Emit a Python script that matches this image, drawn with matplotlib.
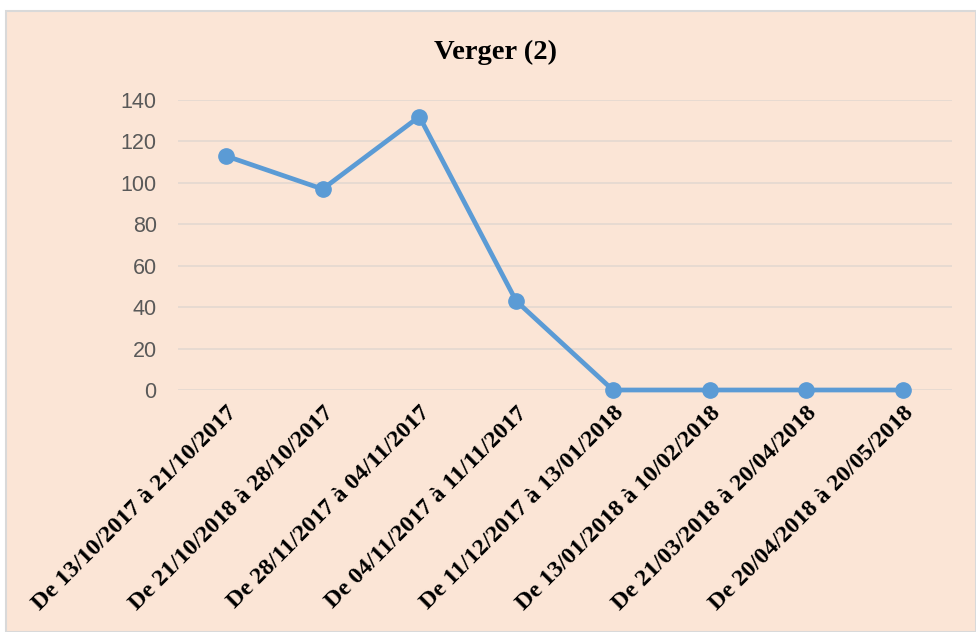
import matplotlib.pyplot as plt
from matplotlib.patches import Rectangle

periodes = ['De 13/10/2017 à 21/10/2017', 'De 21/10/2018 à 28/10/2017',
            'De 28/11/2017 à 04/11/2017', 'De 04/11/2017 à 11/11/2017',
            'De 11/12/2017 à 13/01/2018', 'De 13/01/2018 à 10/02/2018',
            'De 21/03/2018 à 20/04/2018', 'De 20/04/2018 à 20/05/2018']
valeurs = [113, 97, 132, 43, 0, 0, 0, 0]
yticks = [0, 20, 40, 60, 80, 100, 120, 140]

peche = '#FBE5D6'

fig = plt.figure(figsize=(9.76, 6.32), dpi=100, facecolor='white')
# cadre du graphique
fig.patches.append(Rectangle((6/976, 0), 1 - 6/976, 1 - 11/632, transform=fig.transFigure,
                             facecolor=peche, edgecolor='#D9D9D9', linewidth=1.5, zorder=-10))

ax = fig.add_axes([177.5/976, 1 - 390/632, 774/976, 290/632])
ax.set_facecolor(peche)
x = range(len(periodes))
ax.plot(x, valeurs, color='#5B9BD5', linewidth=3.4, marker='o', markersize=11, zorder=3,
        solid_capstyle='round', clip_on=False)

ax.set_xlim(-0.5, len(periodes) - 0.5)
ax.set_ylim(0, 140)
ax.set_yticks(yticks)
ax.set_yticklabels([str(v) for v in yticks], fontsize=15.5, color='#595959', family='Liberation Sans')
ax.set_xticks(list(x))
ax.set_xticklabels(periodes, rotation=45, ha='right', rotation_mode='anchor',
                   fontsize=17.5, fontweight='bold', family='Liberation Serif', color='black')
ax.tick_params(axis='both', length=0)
ax.tick_params(axis='y', pad=15)
ax.tick_params(axis='x', pad=9)
ax.grid(axis='y', color='#E3D8D0', linewidth=1.2)
ax.set_axisbelow(True)
for s in ax.spines.values():
    s.set_visible(False)

fig.text(496/976, 1 - 52/632, 'Verger (2)', ha='center', va='center', fontsize=20.5,
         fontweight='bold', family='Liberation Serif')

fig.savefig('out.png', dpi=100, facecolor=fig.get_facecolor())
